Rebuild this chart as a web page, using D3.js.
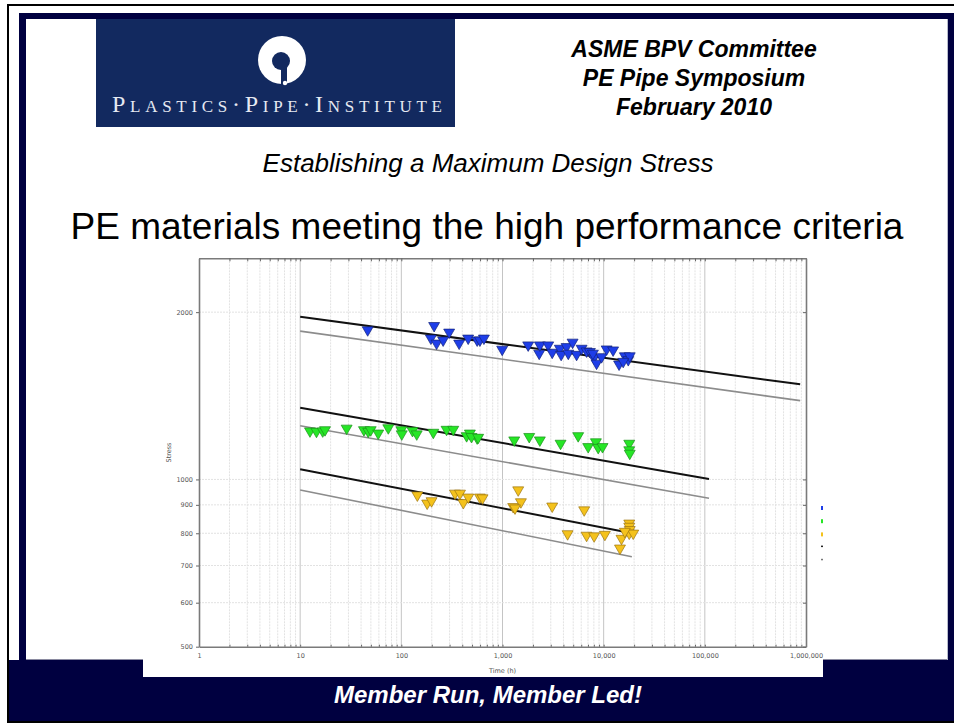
<!DOCTYPE html>
<html>
<head>
<meta charset="utf-8">
<script src="https://cdn.jsdelivr.net/npm/d3@7"></script>
<style>
  html, body { margin: 0; padding: 0; background: #ffffff; }
  svg { display: block; }
</style>
</head>
<body>
<svg id="slide" width="954" height="723"></svg>
<script>
// ---- Data: stress-rupture results, time (h) vs hoop stress (psi) ----
const blueTime = [46.5, 211, 196, 223, 259, 297, 373, 458, 562, 598, 655, 993, 1795, 2306, 2339, 2830, 3100, 3690, 3800, 4300, 4470, 4930, 5400, 6050, 6780, 7310, 8000, 8510, 7830, 9530, 10700, 12400, 14200, 16200, 17500, 18100, 15600];
const blueStress = [1858, 1891, 1795, 1758, 1781, 1840, 1758, 1795, 1781, 1781, 1795, 1714, 1745, 1686, 1745, 1745, 1693, 1721, 1678, 1733, 1686, 1765, 1678, 1721, 1702, 1698, 1656, 1618, 1686, 1662, 1716, 1709, 1612, 1668, 1642, 1668, 1630];

const greenTime = [12.5, 14.5, 16.7, 17.6, 28.8, 42.7, 47.1, 49.8, 59.1, 74.3, 100, 101, 129, 142, 207, 280, 326, 442, 476, 562, 494, 575, 1306, 1837, 2340, 3750, 5600, 7030, 8380, 8830, 9750, 17900, 17900, 18100];
const greenStress = [1222, 1220, 1222, 1228, 1236, 1228, 1220, 1228, 1211, 1238, 1228, 1207, 1224, 1207, 1215, 1230, 1230, 1198, 1211, 1187, 1194, 1190, 1177, 1194, 1177, 1161, 1198, 1145, 1168, 1141, 1145, 1161, 1130, 1114];

const yellowTime = [144, 180, 199, 339, 380, 410, 459, 598, 635, 1430, 1275, 1520, 1330, 3100, 6420, 4400, 6780, 8050, 10280, 14500, 15000, 17900, 17900, 18100, 17900, 19600, 16200];
const yellowStress = [937, 906, 915, 944, 944, 908, 929, 929, 926, 957, 893, 911, 888, 895, 881, 798, 793, 791, 796, 752, 783, 834, 823, 812, 800, 800, 806];

// Regression fits: mean line and lower confidence line, [time, stress] end points
const blueMean = [[10, 1962], [876000, 1483]];
const blueLower = [[10, 1849], [876000, 1386]];
const greenMean = [[10, 1346], [110000, 1002]];
const greenLower = [[10, 1249], [110000, 925]];
const yellowMean = [[10, 1043], [18000, 802]];
const yellowLower = [[10, 957], [19000, 726]];

// Axis ticks
const xDecades = [1, 10, 100, 1000, 10000, 100000, 1000000];
const yTickValues = [500, 600, 700, 800, 900, 1000, 2000];

// Slide text
const headerLines = ["ASME BPV Committee", "PE Pipe Symposium", "February 2010"];
const subtitle = "Establishing a Maximum Design Stress";
const title = "PE materials meeting the high performance criteria";
const footer = "Member Run, Member Led!";
const logoText = "Plastics·Pipe·Institute";

const NAVY = "#000040";
const svg = d3.select("#slide");

// ---- Slide frame ----
svg.append("rect").attr("x", 8).attr("y", 5).attr("width", 960).attr("height", 717)
  .attr("fill", "none").attr("stroke", "#000").attr("stroke-width", 2);
svg.append("rect").attr("x", 19).attr("y", 13).attr("width", 940).attr("height", 650).attr("fill", NAVY);
svg.append("rect").attr("x", 9).attr("y", 660).attr("width", 950).attr("height", 61).attr("fill", NAVY);
svg.append("rect").attr("x", 26).attr("y", 19).attr("width", 921).attr("height", 640).attr("fill", "#ffffff");
svg.append("line").attr("x1", 26).attr("x2", 947).attr("y1", 659.5).attr("y2", 659.5)
  .attr("stroke", "#8a8aa0").attr("stroke-width", 1);
svg.append("line").attr("x1", 947.5).attr("x2", 947.5).attr("y1", 19).attr("y2", 660)
  .attr("stroke", "#b8bccc").attr("stroke-width", 1);

// ---- Logo ----
const logo = svg.append("g");
logo.append("rect").attr("x", 96).attr("y", 19).attr("width", 359).attr("height", 108).attr("fill", "#12295f");
logo.append("circle").attr("cx", 282).attr("cy", 60).attr("r", 24).attr("fill", "#ffffff");
logo.append("circle").attr("cx", 281).attr("cy", 61).attr("r", 9).attr("fill", "#12295f");
logo.append("rect").attr("x", 281).attr("y", 61).attr("width", 6).attr("height", 23).attr("fill", "#12295f");
logo.append("circle").attr("cx", 285).attr("cy", 83).attr("r", 2.2).attr("fill", "#ffffff");
logo.append("text").attr("x", 277).attr("y", 112).attr("text-anchor", "middle")
  .attr("font-family", "Liberation Serif, DejaVu Serif, serif").attr("font-size", 24)
  .style("font-variant", "small-caps").attr("fill", "#e6e9f2")
  .attr("textLength", 330).attr("lengthAdjust", "spacing")
  .text(logoText);

// ---- Header text ----
svg.append("g").selectAll("text").data(headerLines).join("text")
  .attr("x", 694).attr("y", (d, i) => 57 + i * 29).attr("text-anchor", "middle")
  .attr("font-family", "Liberation Sans, Arial, sans-serif").attr("font-size", 23)
  .attr("font-weight", "bold").attr("font-style", "italic").attr("fill", "#000")
  .text(d => d);

svg.append("text").attr("x", 488).attr("y", 172).attr("text-anchor", "middle")
  .attr("font-family", "Liberation Sans, Arial, sans-serif").attr("font-size", 26)
  .attr("font-style", "italic").attr("fill", "#000").text(subtitle);

svg.append("text").attr("x", 487).attr("y", 239).attr("text-anchor", "middle")
  .attr("font-family", "Liberation Sans, Arial, sans-serif").attr("font-size", 37)
  .attr("fill", "#000").text(title);

svg.append("text").attr("x", 488).attr("y", 703).attr("text-anchor", "middle")
  .attr("font-family", "Liberation Sans, Arial, sans-serif").attr("font-size", 24)
  .attr("font-weight", "bold").attr("font-style", "italic").attr("fill", "#ffffff").text(footer);

// ---- Chart panel ----
svg.append("rect").attr("x", 143).attr("y", 250).attr("width", 680).attr("height", 427).attr("fill", "#ffffff");

const x = d3.scaleLog().domain([1, 1000000]).range([199, 806]);
const y = d3.scaleLog().domain([500, 2500]).range([646.7, 258.3]);

const xAll = [];
xDecades.slice(0, -1).forEach(d => { for (let k = 1; k <= 9; k++) xAll.push(d * k); });
xAll.push(1000000);
const xMinor = xAll.filter(v => !xDecades.includes(v));

const chart = svg.append("g");

// Grid
chart.append("g").selectAll("line").data(xMinor).join("line")
  .attr("x1", d => x(d)).attr("x2", d => x(d)).attr("y1", y(2500)).attr("y2", y(500))
  .attr("stroke", "#e2e2e2").attr("stroke-width", 1).attr("stroke-dasharray", "2,1");
chart.append("g").selectAll("line").data(xDecades.slice(1, -1)).join("line")
  .attr("x1", d => x(d)).attr("x2", d => x(d)).attr("y1", y(2500)).attr("y2", y(500))
  .attr("stroke", "#c4c4c4").attr("stroke-width", 1);
chart.append("g").selectAll("line").data(yTickValues.slice(1)).join("line")
  .attr("x1", x(1)).attr("x2", x(1000000)).attr("y1", d => y(d)).attr("y2", d => y(d))
  .attr("stroke", "#e2e2e2").attr("stroke-width", 1).attr("stroke-dasharray", "2,1");

// Axes
const fmt = d3.format(",");
const tickFont = g => g.selectAll("text").attr("font-family", "DejaVu Sans, sans-serif")
  .attr("font-size", 6.5).attr("fill", "#555");
const axisStyle = g => {
  g.attr("color", "#666");
  g.select(".domain").attr("stroke", "#7a7a7a").attr("stroke-width", 1.6);
  g.selectAll(".tick line").attr("stroke", "#666");
};

chart.append("g").attr("transform", `translate(0,${y(500)})`)
  .call(d3.axisBottom(x).tickValues(xAll).tickSizeInner(-2).tickSizeOuter(0).tickPadding(7)
    .tickFormat(d => xDecades.includes(d) ? fmt(d) : ""))
  .call(axisStyle).call(tickFont);
chart.append("g").attr("transform", `translate(0,${y(2500)})`)
  .call(d3.axisTop(x).tickValues(xAll).tickSizeInner(-3).tickSizeOuter(0).tickFormat(""))
  .call(axisStyle);
chart.append("g").attr("transform", `translate(${x(1)},0)`)
  .call(d3.axisLeft(y).tickValues(yTickValues).tickSizeInner(3).tickSizeOuter(0).tickPadding(3)
    .tickFormat(d3.format("d")))
  .call(axisStyle).call(tickFont);
chart.append("g").attr("transform", `translate(${x(1000000)},0)`)
  .call(d3.axisRight(y).tickValues(yTickValues).tickSizeInner(-3).tickSizeOuter(0).tickFormat(""))
  .call(axisStyle);

// Axis titles
chart.append("text").attr("transform", `translate(171,${(y(500) + y(2500)) / 2}) rotate(-90)`)
  .attr("text-anchor", "middle").attr("font-family", "DejaVu Sans, sans-serif")
  .attr("font-size", 6.5).attr("fill", "#555").text("Stress");
chart.append("text").attr("x", x(1000)).attr("y", 673).attr("text-anchor", "middle")
  .attr("font-family", "DejaVu Sans, sans-serif").attr("font-size", 6.5).attr("fill", "#555")
  .text("Time (h)");

// Regression lines
const line = d3.line().x(d => x(d[0])).y(d => y(d[1]));
[blueLower, greenLower, yellowLower].forEach(l => chart.append("path").attr("d", line(l))
  .attr("fill", "none").attr("stroke", "#8c8c8c").attr("stroke-width", 1.6));
[blueMean, greenMean, yellowMean].forEach(l => chart.append("path").attr("d", line(l))
  .attr("fill", "none").attr("stroke", "#111").attr("stroke-width", 2));

// Data markers: downward triangles
const tri = d3.symbol().type(d3.symbolTriangle).size(52);
const groups = [
  { t: blueTime, s: blueStress, fill: "#1e3ee8", stroke: "#12227a" },
  { t: greenTime, s: greenStress, fill: "#26e626", stroke: "#1b8f1b" },
  { t: yellowTime, s: yellowStress, fill: "#f4c21c", stroke: "#9c7410" }
];
groups.forEach(gp => {
  const pts = gp.t.map((t, i) => [t, gp.s[i]]);
  chart.append("g").selectAll("path").data(pts).join("path")
    .attr("d", tri)
    .attr("transform", d => `translate(${x(d[0])},${y(d[1])}) rotate(180)`)
    .attr("fill", gp.fill).attr("stroke", gp.stroke).attr("stroke-width", 0.7);
});

// Legend swatches clipped at the panel edge
const legendColors = ["#1e3ee8", "#26e626", "#f4c21c", "#222", "#777"];
chart.append("g").selectAll("rect").data(legendColors).join("rect")
  .attr("x", 821).attr("y", (d, i) => 506 + i * 13.2)
  .attr("width", 2).attr("height", (d, i) => i < 3 ? 4 : 1.5)
  .attr("fill", d => d);
</script>
</body>
</html>
